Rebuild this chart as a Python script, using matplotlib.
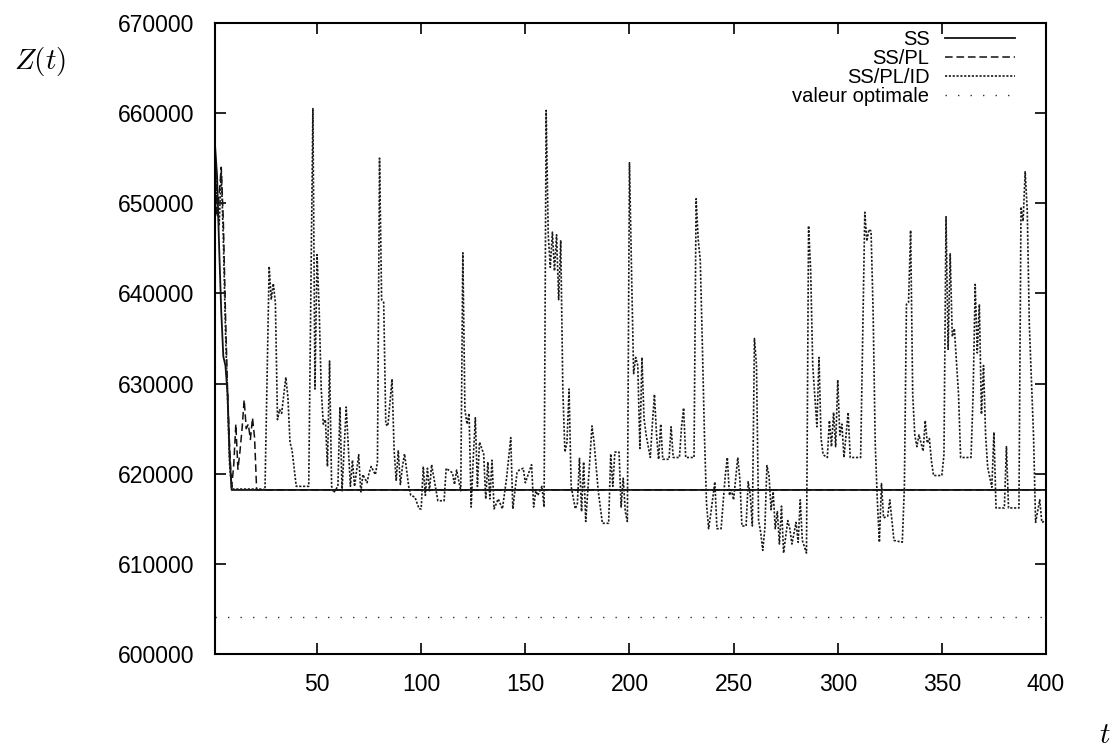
import numpy as np
import matplotlib.pyplot as plt

plt.rcParams['font.family'] = ['Liberation Sans', 'DejaVu Sans']
plt.rcParams['mathtext.fontset'] = 'cm'

# SS : convergence rapide puis valeur constante
ss_t = [1, 2, 3, 4, 5, 6, 7, 8, 9, 400]
ss_z = [656500, 653000, 645000, 638000, 633000, 632000, 629000, 622000,
        618200, 618200]

# SS/PL
sspl_t = [1, 2, 3, 4, 5, 6, 7, 8, 9, 10, 11, 12, 13, 14, 15, 16, 17, 18,
          19, 20, 21, 400]
sspl_z = [656000, 648500, 651000, 654000, 648000, 638000, 629500, 623000,
          618500, 621000, 625500, 620500, 622500, 625000, 628200, 625000,
          625500, 623800, 626200, 624000, 618200, 618200]

# SS/PL/ID (lu point par point sur la figure)
sspli_t = [1, 2, 3, 4, 5, 6, 7, 8, 9, 24, 25, 27, 28, 29, 30, 31, 32, 33,
           35, 36, 37, 38, 40, 46, 48, 49, 50, 51, 52, 53, 54, 55, 56, 57,
           58, 60, 61, 62, 64, 66, 67, 68, 70, 71, 72, 74, 75, 76, 78, 79,
           80, 81, 82, 83, 84, 86, 87, 88, 89, 90, 91, 92, 94, 95, 97, 99,
           100, 101, 102, 103, 104, 105, 107, 108, 111, 112, 115, 116, 117,
           119, 120, 121, 122, 123, 124, 125, 126, 127, 128, 130, 131, 132,
           133, 134, 135, 137, 139, 141, 143, 144, 146, 147, 149, 150, 153,
           154, 155, 156, 158, 159, 160, 161, 162, 163, 164, 165, 166, 167,
           168, 169, 170, 171, 172, 174, 175, 176, 177, 178, 179, 180, 182,
           183, 185, 187, 190, 191, 192, 193, 195, 196, 197, 198, 199, 200,
           201, 202, 203, 204, 205, 206, 207, 208, 210, 211, 212, 213, 214,
           215, 216, 219, 220, 221, 224, 225, 226, 227, 231, 232, 233, 234,
           235, 236, 237, 238, 239, 241, 242, 244, 246, 247, 248, 249, 250,
           252, 253, 254, 256, 257, 258, 259, 260, 261, 262, 263, 264, 265,
           266, 267, 268, 269, 270, 271, 272, 273, 274, 276, 277, 278, 280,
           281, 282, 283, 285, 286, 287, 288, 290, 291, 292, 293, 295, 296,
           297, 298, 299, 300, 301, 302, 303, 304, 305, 306, 311, 313, 314,
           315, 316, 317, 318, 319, 320, 321, 322, 324, 325, 327, 331, 332,
           333, 334, 335, 336, 337, 338, 339, 341, 342, 343, 344, 345, 346,
           350, 351, 352, 353, 354, 355, 356, 358, 359, 364, 365, 366, 367,
           368, 369, 370, 371, 372, 374, 375, 376, 380, 381, 382, 387, 388,
           389, 390, 391, 392, 394, 395, 397, 398, 400]
sspli_z = [655500, 650000, 647500, 653500, 646000, 636000, 628500, 621000,
           618300, 618300, 618200, 643000, 639300, 641100, 638900, 626000,
           627100, 626700, 630700, 628500, 623500, 622600, 618600, 618600,
           660500, 629400, 644300, 638400, 629400, 625500, 626000, 620800,
           632500, 618600, 617900, 618600, 627400, 618100, 627400, 618600,
           621500, 618600, 622100, 617900, 619900, 619000, 620100, 620800,
           619900, 621300, 655000, 639300, 639000, 625500, 625300, 630500,
           622600, 619200, 622600, 618800, 620800, 622200, 618600, 617600,
           617400, 616100, 616100, 620800, 617600, 620600, 618100, 621000,
           618300, 617000, 617000, 620600, 620100, 618800, 620400, 618100,
           644500, 627100, 625500, 626700, 616300, 621700, 626200, 618600,
           623500, 622200, 617200, 621300, 617200, 621500, 616100, 617200,
           616100, 619500, 624000, 616100, 620100, 620400, 620600, 619000,
           621000, 616300, 618100, 617600, 618600, 616300, 660300, 646500,
           642900, 646800, 642500, 646500, 639300, 645900, 629400, 622400,
           623500, 629400, 618600, 616100, 616700, 621700, 615800, 621300,
           614700, 618100, 625300, 623500, 618100, 614500, 614500, 622200,
           618600, 622400, 622400, 616300, 619500, 615800, 614700, 654500,
           642400, 631100, 632900, 632000, 622800, 632900, 626100, 624300,
           621800, 625500, 628800, 624300, 621600, 625500, 621600, 621600,
           625200, 621800, 621800, 625200, 627300, 621800, 621800, 650500,
           646000, 643700, 634300, 624300, 616700, 613900, 615500, 619100,
           613900, 613900, 619800, 621800, 617600, 618200, 617100, 621800,
           619400, 614200, 614200, 619100, 617600, 614200, 635000, 632000,
           614800, 613500, 611500, 613900, 620900, 619800, 616000, 618000,
           613900, 615800, 612200, 616400, 611200, 614800, 613900, 612200,
           614600, 612400, 617100, 612600, 611200, 647500, 642600, 632000,
           625200, 632900, 623900, 622100, 621800, 625900, 623000, 626800,
           623000, 630400, 624300, 625500, 621800, 624300, 626800, 621800,
           621800, 649000, 645800, 647100, 646900, 637900, 623400, 617100,
           612400, 618900, 615100, 615300, 617100, 612600, 612400, 618500,
           638800, 639000, 647000, 628800, 624300, 623000, 624300, 622500,
           625900, 623400, 623900, 621400, 619800, 619800, 622100, 648500,
           633800, 644400, 635200, 636100, 628800, 621800, 621800, 628800,
           641000, 633400, 638800, 626600, 632000, 624300, 620700, 618500,
           624600, 616200, 616200, 623000, 616200, 616200, 649600, 648000,
           653500, 649200, 636500, 624300, 614600, 617100, 614600, 614800]

# valeur optimale
opt_t = [1, 400]
opt_z = [604100, 604100]

x_ticks = [50, 100, 150, 200, 250, 300, 350, 400]
y_ticks = [600000, 610000, 620000, 630000, 640000, 650000, 660000, 670000]

fig = plt.figure(figsize=(11.18, 7.49), dpi=100)
ax = fig.add_axes([215 / 1118, 1 - 654 / 749, 831 / 1118, 631 / 749])

ax.plot(ss_t, ss_z, color='#111111', lw=1.3, ls='-', label='SS')
ax.plot(sspl_t, sspl_z, color='#111111', lw=1.1, ls=(0, (5, 2.5)),
        label='SS/PL')
ax.plot(sspli_t, sspli_z, color='#1a1a1a', lw=1.2, ls=(0, (1.3, 1.0)),
        label='SS/PL/ID')
ax.plot(opt_t, opt_z, color='#333333', lw=1.0, ls=(0, (1, 8)),
        label='valeur optimale')

ax.set_xlim(1, 400)
ax.set_ylim(600000, 670000)
ax.set_xticks(x_ticks)
ax.set_yticks(y_ticks)
ax.ticklabel_format(axis='y', style='plain', useOffset=False)
ax.tick_params(direction='in', length=8, width=1.2, top=True, right=True,
               labelsize=16.5)
ax.tick_params(axis='x', pad=14)
ax.tick_params(axis='y', pad=15)
for sp in ax.spines.values():
    sp.set_linewidth(1.5)

leg = ax.legend(loc='upper right', bbox_to_anchor=(800 / 831, 1 - 7 / 631),
                frameon=False, markerfirst=False, fontsize=14.5,
                handlelength=3.5, handletextpad=0.75, labelspacing=0.0,
                borderpad=0, borderaxespad=0)

fig.text(40 / 1118, 1 - 61 / 749, r'$Z(t)$', fontsize=21,
         ha='center', va='center')
fig.text(1105 / 1118, 1 - 735 / 749, r'$t$', fontsize=21,
         ha='center', va='center')

fig.savefig('out.png', dpi=100)
